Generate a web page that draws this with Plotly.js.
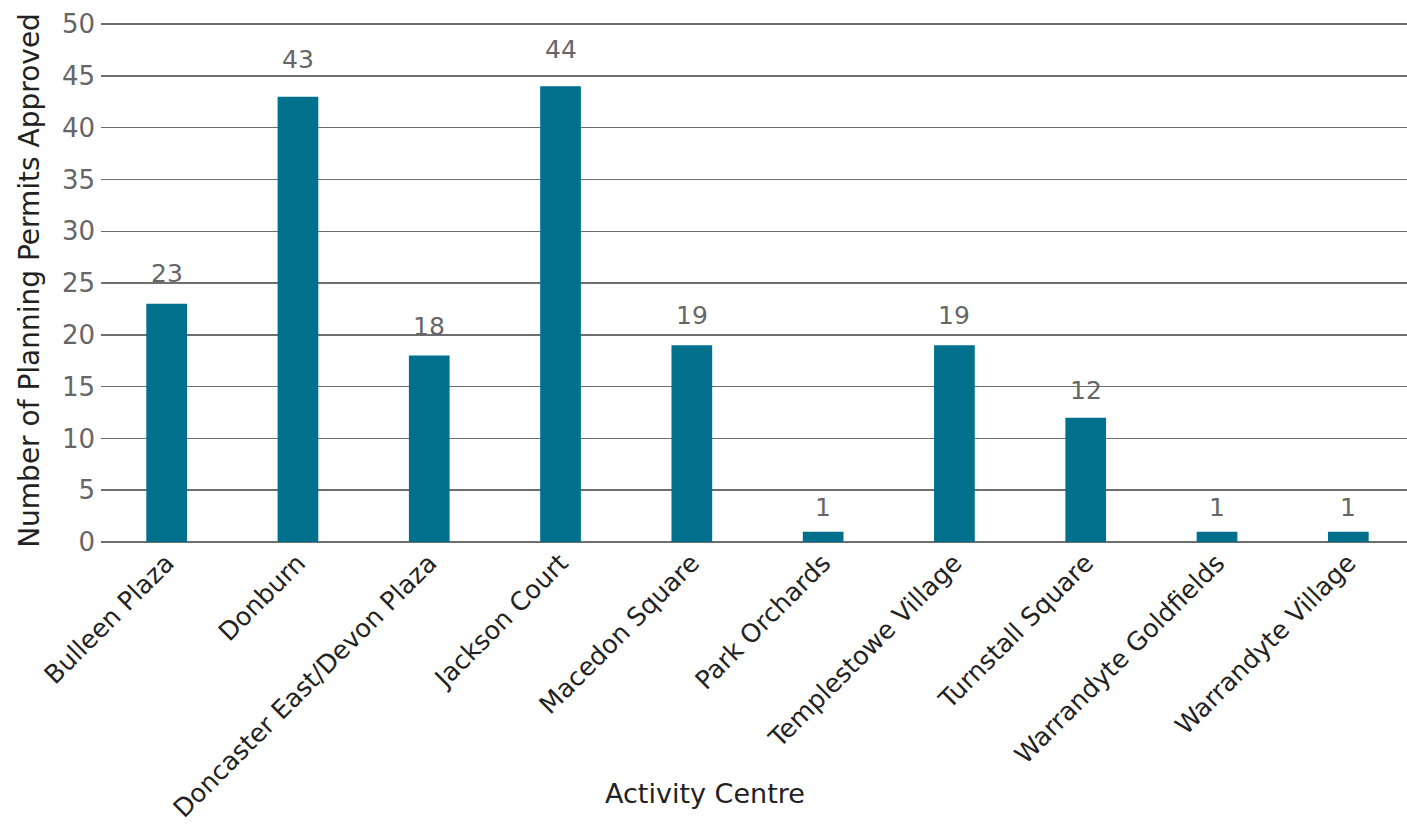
<!DOCTYPE html>
<html><head><meta charset="utf-8">
<script src="https://cdn.plot.ly/plotly-3.0.1.min.js"></script>
<style>html,body{margin:0;padding:0;background:#fff;overflow:hidden}</style>
</head><body>
<div id="chart" style="width:1407px;height:830px"></div>
<script>
const categories = ["Bulleen Plaza","Donburn","Doncaster East/Devon Plaza","Jackson Court","Macedon Square","Park Orchards","Templestowe Village","Turnstall Square","Warrandyte Goldfields","Warrandyte Village"];
const permits = [23,43,18,44,19,1,19,12,1,1];
const yTicks = [0,5,10,15,20,25,30,35,40,45,50];
const xTitle = "Activity Centre";
const yTitle = "Number of Planning Permits Approved";

const FONT = "DejaVu Sans, Open Sans, sans-serif";
const labels = categories.map((c, i) => ({
  x: c, y: permits[i], xref: "x", yref: "y",
  text: String(permits[i]), showarrow: false,
  yanchor: "bottom", yshift: 7 + 0.31 * permits[i],
  font: {family: FONT, size: 25, color: "#666666"}
}));
labels.push({
  xref: "paper", yref: "paper", x: 0.4625, y: -0.48,
  xanchor: "center", yanchor: "middle", showarrow: false,
  text: xTitle, font: {family: FONT, size: 27, color: "#222222"}
});

Plotly.newPlot("chart", [{
  type: "bar",
  x: categories,
  y: permits,
  marker: {color: "#00708D"},
  hoverinfo: "x+y"
}], {
  width: 1407, height: 830,
  margin: {l: 101, r: 0, t: 19, b: 288},
  paper_bgcolor: "#ffffff", plot_bgcolor: "#ffffff",
  bargap: 0.69,
  showlegend: false,
  font: {family: FONT, color: "#222222"},
  annotations: labels,
  xaxis: {
    type: "category",
    range: [-0.5, 9.447],
    tickangle: -45,
    tickfont: {family: FONT, size: 25.5, color: "#222222"},
    showgrid: false, showline: false, ticks: "", automargin: false
  },
  yaxis: {
    range: [0, 50.5],
    tickvals: yTicks,
    ticktext: yTicks.map(String),
    tickfont: {family: FONT, size: 26, color: "#666666"},
    title: {text: yTitle, font: {family: FONT, size: 28, color: "#222222"}, standoff: 14},
    showgrid: true, gridcolor: "#6e6e6e", gridwidth: 1.5,
    zeroline: true, zerolinecolor: "#6e6e6e", zerolinewidth: 1.5,
    showline: false, ticks: "", ticklabelstandoff: 5, automargin: false
  }
}, {displayModeBar: false, staticPlot: true});
</script>
</body></html>
